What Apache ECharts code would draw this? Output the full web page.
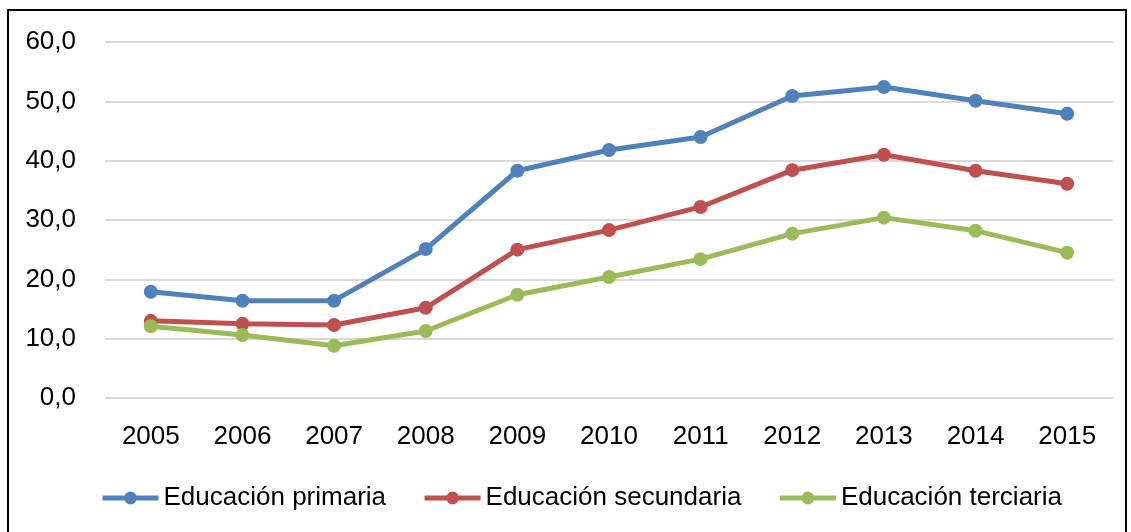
<!DOCTYPE html>
<html>
<head>
<meta charset="utf-8">
<script src="https://cdn.jsdelivr.net/npm/echarts@6/dist/echarts.min.js"></script>
<style>
  html, body { margin: 0; padding: 0; background: #fff; }
  #frame { position: absolute; left: 7px; top: 9px; width: 1120px; height: 540px;
           border: 2px solid #000; box-sizing: border-box; }
  #chart { position: absolute; left: 0; top: 0; width: 1131px; height: 532px; }
</style>
</head>
<body>
<div id="frame"></div>
<div id="chart"></div>
<script>
// años y series
var years = ['2005', '2006', '2007', '2008', '2009', '2010', '2011', '2012', '2013', '2014', '2015'];
var primaria = [17.9, 16.4, 16.4, 25.1, 38.3, 41.8, 44.0, 50.9, 52.4, 50.1, 47.9];
var secundaria = [13.0, 12.5, 12.3, 15.2, 25.0, 28.3, 32.2, 38.4, 41.0, 38.3, 36.1];
var terciaria = [12.1, 10.6, 8.8, 11.3, 17.4, 20.4, 23.4, 27.7, 30.4, 28.2, 24.5];

var fontFam = '"Liberation Sans", Arial, sans-serif';

function serie(name, data, color) {
    return {
        name: name,
        type: 'line',
        data: data,
        symbol: 'circle',
        symbolSize: 14,
        lineStyle: { width: 5, color: color },
        itemStyle: { color: color },
        animation: false
    };
}

var myChart = echarts.init(document.getElementById('chart'));
var option = {
    textStyle: { fontFamily: fontFam },
    grid: {
        left: 105,
        right: 18,
        top: 42,
        height: 356
    },
    legend: {
        top: 480,
        left: 95,
        itemWidth: 56,
        itemHeight: 16,
        itemGap: 36,
        lineStyle: { width: 5 },
        textStyle: { fontSize: 26, color: '#000', fontFamily: fontFam },
        data: ['Educación primaria', 'Educación secundaria', 'Educación terciaria']
    },
    xAxis: {
        type: 'category',
        data: years,
        axisLine: { show: false },
        axisTick: { show: false },
        axisLabel: { fontSize: 26, color: '#000', margin: 26, fontFamily: fontFam }
    },
    yAxis: {
        type: 'value',
        min: 0,
        max: 60,
        interval: 10,
        axisLabel: {
            fontSize: 26, color: '#000', margin: 29, fontFamily: fontFam,
            formatter: function (v) { return v.toFixed(1).replace('.', ','); }
        },
        splitLine: { lineStyle: { color: '#d9d9d9', width: 2 } }
    },
    series: [
        serie('Educación primaria', primaria, '#4f81bd'),
        serie('Educación secundaria', secundaria, '#c0504d'),
        serie('Educación terciaria', terciaria, '#9bbb59')
    ]
};
myChart.setOption(option);
</script>
</body>
</html>
